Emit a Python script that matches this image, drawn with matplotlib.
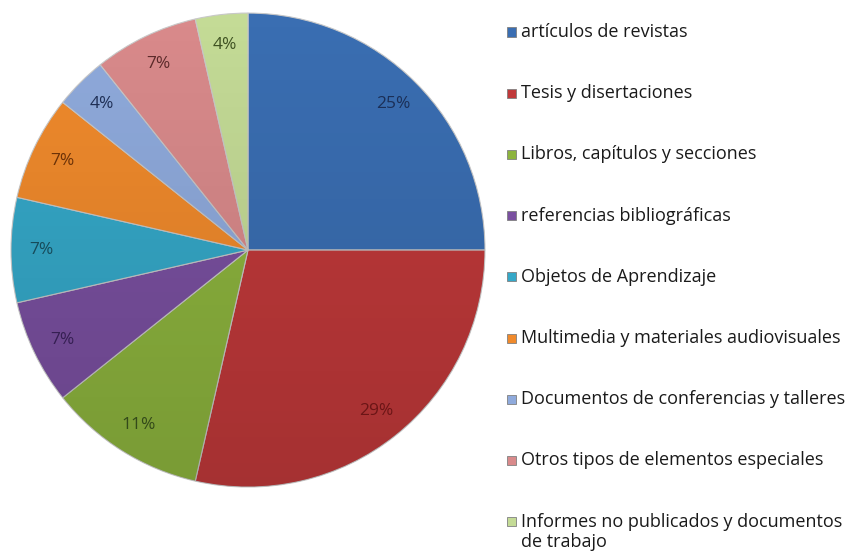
import numpy as np
import matplotlib.pyplot as plt
from matplotlib.patches import Rectangle, Circle

# counts per category (28 in total)
labels = ['artículos de revistas', 'Tesis y disertaciones', 'Libros, capítulos y secciones',
          'referencias bibliográficas', 'Objetos de Aprendizaje',
          'Multimedia y materiales audiovisuales', 'Documentos de conferencias y talleres',
          'Otros tipos de elementos especiales',
          'Informes no publicados y documentos\nde trabajo']
counts = [7, 8, 3, 2, 2, 2, 1, 2, 1]
colors = ['#3A6EB2', '#C0393A', '#8DB43E', '#7A50A0', '#35A8C8', '#F08A2C',
          '#8FAADC', '#D98A8B', '#C4DB96']
text_colors = ['#1B2F57', '#6B1516', '#33491A', '#351F52', '#174B5A', '#6B3208',
               '#1F2F55', '#5C2A2A', '#3F5222']

plt.rcParams['font.family'] = ['Open Sans', 'DejaVu Sans']

fig = plt.figure(figsize=(8.59, 5.56), dpi=100)
ax = fig.add_axes([0.0128, 0.124, 0.5518, 0.8525])

wedges, texts, autotexts = ax.pie(
    counts, colors=colors, startangle=90, counterclock=False,
    autopct='%1.0f%%', pctdistance=0.87, radius=1,
    wedgeprops=dict(edgecolor='#c8c8c8', linewidth=0.8),
    textprops=dict(fontsize=12.5))
for t, c in zip(autotexts, text_colors):
    t.set_color(c)

# soft vertical shading like the original 3D look
grad = np.zeros((200, 2, 4))
grad[:, :, 3] = np.linspace(0.0, 0.14, 200)[:, None]
img = ax.imshow(grad, extent=(-1, 1, -1, 1), origin='upper', aspect='auto', zorder=1.5)
clip = Circle((0, 0), 1, transform=ax.transData)
img.set_clip_path(clip)
for t in autotexts:
    t.set_zorder(3)

ax.set_xlim(-1, 1)
ax.set_ylim(-1, 1)
ax.set_aspect('equal')
ax.axis('off')

# legend drawn by hand so the marker sits on the first line of the last entry
x_box, x_txt = 507 / 859, 521 / 859
top, step = 1 - 32 / 556, 61.2 / 556
bw, bh = 9 / 859, 9 / 556
for i, (lab, col) in enumerate(zip(labels, colors)):
    y = top - i * step
    fig.patches.append(Rectangle((x_box, y - bh / 2), bw, bh, transform=fig.transFigure,
                                 facecolor=col, edgecolor='#808080', linewidth=0.6))
    fig.text(x_txt, y, lab.split('\n')[0], fontsize=13, color='#1a1a1a', va='center')
    if '\n' in lab:
        fig.text(x_txt, y - 20 / 556, lab.split('\n')[1], fontsize=13, color='#1a1a1a', va='center')

fig.savefig('out.png', dpi=100)
